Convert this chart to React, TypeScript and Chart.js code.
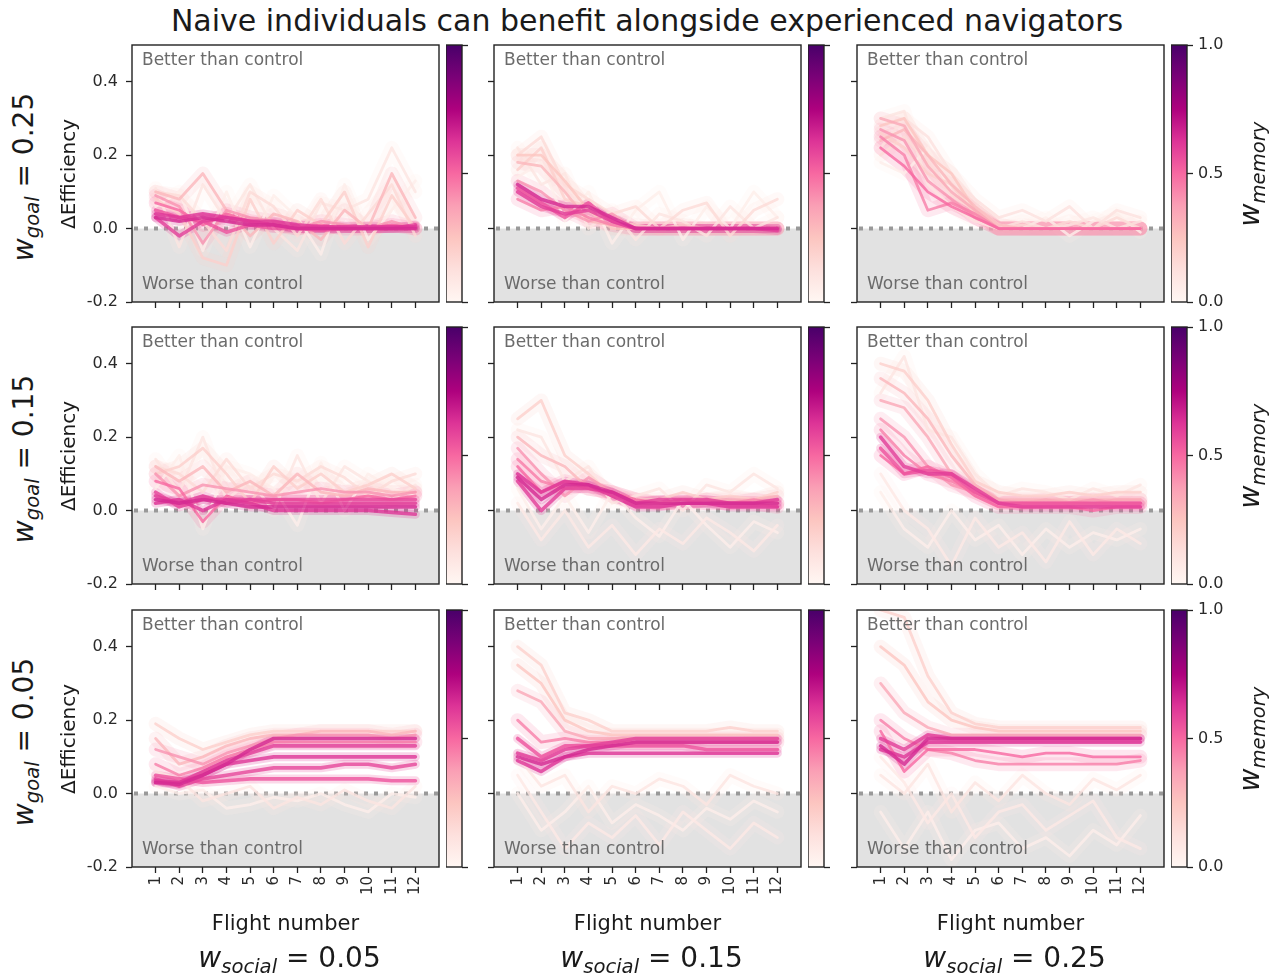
import React, { useEffect, useRef } from 'react';
import { Chart, registerables } from 'chart.js';

Chart.register(...registerables);
Chart.defaults.font.family = "'DejaVu Sans', sans-serif";

// ---------------- data ----------------
const FLIGHTS = [1, 2, 3, 4, 5, 6, 7, 8, 9, 10, 11, 12];
const Y_TICKS = [-0.2, 0.0, 0.2, 0.4];
const CBAR_TICKS = [0, 0.5, 1];
const CBAR_MAX = [1];
const W_GOAL_ROWS = ['0.25', '0.15', '0.05'];
const W_SOCIAL_COLS = ['0.05', '0.15', '0.25'];
const BASELINE = 0;
const Y_MIN = -0.2;
const Y_MAX = 0.5;
const X_MIN = 0;
const X_MAX = 13;
const TITLE = 'Naive individuals can benefit alongside experienced navigators';

// w_goal = 0.25, w_social = 0.05
const G25_S05_MEMORY = [0.05, 0.1, 0.2, 0.3, 0.4, 0.5, 0.55, 0.6, 0.62, 0.65, 0.15];
const G25_S05_VALUES = [
  [0.06, 0.1, -0.06, 0.1, -0.05, 0.09, 0.03, -0.07, 0.12, -0.03, 0.05, 0.13],
  [0.11, -0.05, 0.12, 0.02, 0.12, 0.0, -0.06, 0.07, 0.05, 0.08, 0.22, 0.1],
  [0.08, 0.04, -0.08, -0.1, 0.08, -0.04, 0.05, 0.01, 0.1, -0.05, 0.09, 0.0],
  [0.1, 0.08, 0.15, 0.05, -0.02, 0.04, 0.02, -0.03, 0.05, 0.0, 0.15, 0.03],
  [0.09, 0.06, -0.04, 0.05, 0.03, 0.02, 0.0, 0.02, 0.01, 0.0, 0.02, 0.0],
  [0.07, 0.05, 0.01, 0.04, 0.02, 0.01, 0.0, 0.01, 0.0, 0.0, 0.01, 0.0],
  [0.05, 0.03, 0.02, -0.01, 0.01, 0.0, 0.0, -0.005, 0.0, 0.0, 0.0, 0.0],
  [0.03, -0.02, 0.02, 0.03, 0.02, 0.01, 0.0, 0.0, 0.0, 0.0, 0.0, 0.01],
  [0.04, 0.03, 0.04, 0.03, 0.02, 0.02, 0.01, 0.005, 0.005, 0.005, 0.005, 0.005],
  [0.03, 0.02, 0.03, 0.02, 0.01, 0.01, 0.0, 0.0, 0.0, 0.0, 0.0, 0.0],
  [0.1, 0.09, 0.02, -0.06, 0.1, 0.06, -0.02, 0.08, -0.04, 0.04, 0.12, -0.02],
];

// w_goal = 0.25, w_social = 0.15
const G25_S15_MEMORY = [0.05, 0.1, 0.2, 0.25, 0.3, 0.4, 0.45, 0.55, 0.6, 0.65, 0.15];
const G25_S15_VALUES = [
  [0.14, 0.18, 0.02, 0.1, -0.04, 0.05, 0.1, -0.03, 0.06, 0.0, 0.1, 0.03],
  [0.22, 0.12, 0.15, 0.0, 0.05, -0.03, 0.04, 0.02, -0.02, 0.06, 0.0, 0.03],
  [0.16, 0.22, 0.08, 0.06, 0.02, 0.01, 0.0, 0.01, 0.0, 0.0, 0.0, 0.0],
  [0.2, 0.2, 0.13, 0.05, 0.0, 0.0, 0.0, 0.0, 0.0, 0.0, 0.0, 0.0],
  [0.18, 0.17, 0.1, 0.02, 0.01, 0.0, 0.0, 0.0, 0.0, 0.0, 0.0, 0.0],
  [0.13, 0.1, 0.05, 0.02, 0.04, 0.0, 0.0, 0.0, 0.0, 0.0, 0.0, 0.0],
  [0.08, 0.05, 0.06, 0.03, 0.01, 0.0, 0.0, 0.0, 0.0, 0.0, 0.0, 0.0],
  [0.11, 0.07, 0.03, 0.07, 0.02, 0.0, 0.0, 0.0, 0.0, 0.0, 0.0, 0.0],
  [0.1, 0.06, 0.04, 0.05, 0.02, 0.0, 0.0, 0.0, 0.0, 0.0, 0.0, -0.005],
  [0.12, 0.08, 0.06, 0.06, 0.03, 0.0, 0.0, 0.0, 0.0, 0.0, 0.0, 0.0],
  [0.2, 0.25, 0.12, 0.08, 0.04, 0.06, 0.0, 0.05, 0.07, -0.02, 0.05, 0.08],
];

// w_goal = 0.25, w_social = 0.25
const G25_S25_MEMORY = [0.05, 0.1, 0.15, 0.2, 0.25, 0.3, 0.35, 0.4, 0.45, 0.5, 0.12];
const G25_S25_VALUES = [
  [0.18, 0.15, 0.22, 0.1, 0.06, 0.01, 0.0, 0.03, -0.02, 0.02, 0.04, -0.01],
  [0.3, 0.32, 0.12, 0.06, 0.02, 0.0, 0.02, 0.0, 0.01, 0.03, 0.0, 0.02],
  [0.2, 0.25, 0.18, 0.09, 0.05, 0.0, 0.01, 0.0, 0.02, 0.0, 0.03, 0.0],
  [0.26, 0.22, 0.15, 0.12, 0.04, 0.0, 0.0, 0.0, 0.0, 0.0, 0.0, 0.0],
  [0.28, 0.3, 0.2, 0.15, 0.05, 0.0, 0.0, 0.0, 0.0, 0.0, 0.0, 0.0],
  [0.24, 0.27, 0.2, 0.12, 0.06, 0.01, 0.0, 0.0, 0.0, 0.0, 0.0, 0.0],
  [0.3, 0.28, 0.17, 0.1, 0.05, 0.0, 0.0, 0.0, 0.0, 0.0, 0.0, 0.0],
  [0.27, 0.24, 0.13, 0.08, 0.03, 0.0, 0.0, 0.0, 0.0, 0.0, 0.0, 0.0],
  [0.25, 0.2, 0.05, 0.07, 0.04, 0.0, 0.0, 0.0, 0.0, 0.0, 0.0, 0.0],
  [0.22, 0.17, 0.1, 0.06, 0.03, 0.0, 0.0, 0.0, 0.0, 0.0, 0.0, 0.0],
  [0.22, 0.3, 0.25, 0.15, 0.08, 0.03, 0.05, 0.02, 0.06, 0.0, 0.05, 0.03],
];

// w_goal = 0.15, w_social = 0.05
const G15_S05_MEMORY = [0.05, 0.1, 0.2, 0.3, 0.4, 0.5, 0.58, 0.6, 0.62, 0.65, 0.15];
const G15_S05_VALUES = [
  [0.06, 0.15, -0.05, 0.12, 0.1, 0.06, -0.04, 0.13, 0.0, 0.1, 0.06, 0.04],
  [0.14, 0.05, 0.2, 0.03, 0.08, 0.0, 0.15, 0.02, 0.12, 0.08, 0.03, 0.07],
  [0.1, 0.12, 0.17, 0.1, 0.02, 0.12, 0.06, 0.1, 0.05, 0.07, 0.1, 0.06],
  [0.12, 0.08, 0.12, 0.05, 0.08, 0.04, 0.1, 0.05, 0.04, 0.06, 0.05, 0.05],
  [0.1, 0.04, 0.07, 0.06, 0.05, 0.04, 0.05, 0.06, 0.05, 0.05, 0.04, 0.05],
  [0.08, 0.06, -0.03, 0.04, 0.02, 0.03, 0.03, 0.02, 0.03, 0.04, 0.03, 0.04],
  [0.05, 0.01, 0.03, 0.03, 0.03, 0.03, 0.03, 0.03, 0.03, 0.03, 0.03, 0.03],
  [0.04, 0.02, 0.04, 0.02, 0.03, 0.02, 0.02, 0.02, 0.02, 0.02, 0.02, 0.02],
  [0.02, 0.03, 0.0, 0.03, 0.02, 0.0, 0.0, 0.0, 0.0, 0.0, -0.005, -0.01],
  [0.03, 0.02, 0.03, 0.02, 0.01, 0.01, 0.01, 0.01, 0.01, 0.01, 0.01, 0.01],
  [0.12, 0.1, 0.05, 0.14, 0.06, 0.1, 0.08, 0.12, 0.09, 0.04, 0.08, 0.1],
];

// w_goal = 0.15, w_social = 0.15
const G15_S15_MEMORY = [0.05, 0.1, 0.2, 0.3, 0.4, 0.45, 0.5, 0.6, 0.62, 0.65, 0.08];
const G15_S15_VALUES = [
  [0.06, -0.05, 0.04, -0.06, 0.05, -0.02, -0.07, 0.03, -0.04, -0.1, -0.03, -0.06],
  [0.22, 0.2, 0.08, 0.12, 0.02, 0.04, 0.06, 0.0, 0.07, 0.05, 0.1, 0.06],
  [0.25, 0.3, 0.15, 0.1, 0.04, 0.03, 0.03, 0.05, 0.03, 0.04, 0.03, 0.05],
  [0.2, 0.15, 0.12, 0.06, 0.05, 0.03, 0.02, 0.02, 0.03, 0.03, 0.03, 0.04],
  [0.17, 0.1, 0.04, 0.09, 0.05, 0.02, 0.02, 0.02, 0.02, 0.02, 0.02, 0.02],
  [0.14, 0.08, 0.06, 0.07, 0.04, 0.02, 0.02, 0.02, 0.03, 0.02, 0.03, 0.02],
  [0.12, 0.05, 0.08, 0.06, 0.05, 0.03, 0.02, 0.03, 0.02, 0.02, 0.02, 0.01],
  [0.08, 0.0, 0.06, 0.06, 0.05, 0.02, 0.03, 0.03, 0.03, 0.02, 0.02, 0.03],
  [0.1, 0.05, 0.08, 0.07, 0.04, 0.01, 0.01, 0.02, 0.02, 0.01, 0.01, 0.01],
  [0.09, 0.03, 0.07, 0.07, 0.05, 0.02, 0.02, 0.02, 0.02, 0.02, 0.02, 0.02],
  [0.02, -0.08, 0.0, -0.1, -0.04, -0.12, -0.05, -0.09, -0.02, -0.06, -0.11, -0.04],
];

// w_goal = 0.15, w_social = 0.25
const G15_S25_MEMORY = [0.05, 0.1, 0.2, 0.3, 0.35, 0.4, 0.45, 0.5, 0.55, 0.6, 0.08];
const G15_S25_VALUES = [
  [0.05, -0.05, -0.1, 0.0, -0.08, -0.04, -0.12, -0.05, -0.1, -0.06, -0.08, -0.05],
  [0.32, 0.42, 0.22, 0.2, 0.1, 0.04, 0.06, 0.05, 0.03, 0.06, 0.04, 0.07],
  [0.4, 0.38, 0.3, 0.18, 0.08, 0.05, 0.04, 0.04, 0.05, 0.04, 0.05, 0.05],
  [0.36, 0.32, 0.25, 0.15, 0.07, 0.03, 0.03, 0.03, 0.03, 0.03, 0.03, 0.03],
  [0.3, 0.28, 0.2, 0.1, 0.06, 0.03, 0.02, 0.03, 0.02, 0.02, 0.03, 0.03],
  [0.25, 0.2, 0.12, 0.07, 0.05, 0.02, 0.02, 0.02, 0.02, 0.03, 0.02, 0.02],
  [0.22, 0.15, 0.1, 0.08, 0.05, 0.02, 0.02, 0.02, 0.02, 0.02, 0.02, 0.02],
  [0.15, 0.1, 0.12, 0.09, 0.04, 0.01, 0.01, 0.01, 0.01, 0.0, 0.01, 0.01],
  [0.17, 0.1, 0.11, 0.1, 0.05, 0.02, 0.02, 0.02, 0.02, 0.02, 0.02, 0.02],
  [0.2, 0.12, 0.1, 0.1, 0.06, 0.02, 0.01, 0.01, 0.01, 0.01, 0.01, 0.01],
  [0.1, 0.0, -0.05, -0.15, -0.02, -0.1, -0.06, -0.14, -0.03, -0.12, -0.05, -0.09],
];

// w_goal = 0.05, w_social = 0.05
const G05_S05_MEMORY = [0.05, 0.2, 0.3, 0.4, 0.45, 0.55, 0.58, 0.6, 0.62, 0.65, 0.1];
const G05_S05_VALUES = [
  [0.02, 0.0, 0.01, -0.04, -0.03, -0.01, -0.02, 0.0, -0.03, -0.05, 0.0, -0.01],
  [0.19, 0.15, 0.12, 0.14, 0.16, 0.17, 0.17, 0.17, 0.17, 0.17, 0.17, 0.17],
  [0.15, 0.08, 0.1, 0.13, 0.15, 0.16, 0.16, 0.17, 0.17, 0.17, 0.16, 0.17],
  [0.12, 0.1, 0.08, 0.11, 0.13, 0.15, 0.16, 0.16, 0.16, 0.16, 0.15, 0.16],
  [0.08, 0.05, 0.07, 0.1, 0.12, 0.14, 0.14, 0.14, 0.14, 0.14, 0.14, 0.14],
  [0.05, 0.04, 0.03, 0.035, 0.04, 0.04, 0.04, 0.04, 0.04, 0.04, 0.035, 0.035],
  [0.04, 0.02, 0.04, 0.05, 0.06, 0.07, 0.07, 0.07, 0.08, 0.08, 0.07, 0.08],
  [0.03, 0.03, 0.06, 0.09, 0.11, 0.13, 0.13, 0.13, 0.13, 0.13, 0.13, 0.13],
  [0.035, 0.03, 0.05, 0.08, 0.09, 0.1, 0.1, 0.1, 0.1, 0.1, 0.1, 0.1],
  [0.03, 0.025, 0.05, 0.08, 0.12, 0.15, 0.15, 0.15, 0.15, 0.15, 0.15, 0.15],
  [0.06, 0.04, -0.02, 0.0, 0.02, -0.04, -0.01, -0.03, 0.01, -0.02, -0.04, 0.02],
];

// w_goal = 0.05, w_social = 0.15
const G05_S15_MEMORY = [0.05, 0.1, 0.2, 0.25, 0.35, 0.45, 0.55, 0.6, 0.62, 0.65, 0.08];
const G05_S15_VALUES = [
  [0.0, -0.1, -0.05, 0.02, -0.08, -0.03, -0.06, -0.1, -0.04, -0.07, -0.02, -0.05],
  [0.1, 0.02, 0.05, -0.05, 0.02, 0.0, 0.04, 0.02, -0.03, 0.05, 0.02, 0.0],
  [0.4, 0.35, 0.22, 0.2, 0.17, 0.17, 0.17, 0.17, 0.17, 0.18, 0.17, 0.17],
  [0.35, 0.3, 0.2, 0.17, 0.16, 0.16, 0.16, 0.16, 0.16, 0.16, 0.16, 0.16],
  [0.28, 0.25, 0.17, 0.15, 0.15, 0.15, 0.15, 0.15, 0.15, 0.15, 0.15, 0.15],
  [0.2, 0.14, 0.15, 0.14, 0.14, 0.14, 0.14, 0.14, 0.14, 0.14, 0.14, 0.14],
  [0.15, 0.1, 0.13, 0.13, 0.13, 0.13, 0.13, 0.13, 0.12, 0.12, 0.12, 0.12],
  [0.11, 0.09, 0.12, 0.13, 0.14, 0.15, 0.15, 0.15, 0.15, 0.15, 0.15, 0.15],
  [0.09, 0.06, 0.1, 0.11, 0.11, 0.11, 0.11, 0.11, 0.11, 0.11, 0.11, 0.11],
  [0.1, 0.08, 0.1, 0.12, 0.13, 0.14, 0.14, 0.14, 0.14, 0.14, 0.14, 0.14],
  [0.05, -0.05, -0.15, -0.08, -0.12, -0.06, -0.14, -0.05, -0.1, -0.15, -0.08, -0.12],
];

// w_goal = 0.05, w_social = 0.25
const G05_S25_MEMORY = [0.05, 0.1, 0.2, 0.25, 0.35, 0.45, 0.5, 0.6, 0.62, 0.65, 0.08];
const G05_S25_VALUES = [
  [-0.05, -0.15, -0.05, -0.18, -0.1, -0.08, -0.15, -0.12, -0.17, -0.1, -0.14, -0.06],
  [0.05, 0.0, 0.08, -0.05, 0.03, -0.02, 0.05, 0.0, -0.03, 0.04, 0.01, 0.05],
  [0.5, 0.48, 0.32, 0.22, 0.19, 0.18, 0.18, 0.18, 0.18, 0.18, 0.18, 0.18],
  [0.4, 0.35, 0.25, 0.2, 0.18, 0.17, 0.17, 0.17, 0.17, 0.17, 0.17, 0.17],
  [0.3, 0.22, 0.18, 0.16, 0.16, 0.16, 0.16, 0.16, 0.16, 0.16, 0.16, 0.16],
  [0.2, 0.15, 0.12, 0.11, 0.09, 0.08, 0.08, 0.08, 0.08, 0.08, 0.08, 0.09],
  [0.17, 0.06, 0.12, 0.12, 0.12, 0.11, 0.1, 0.11, 0.11, 0.1, 0.1, 0.1],
  [0.15, 0.12, 0.16, 0.15, 0.15, 0.15, 0.15, 0.15, 0.15, 0.15, 0.15, 0.15],
  [0.12, 0.1, 0.14, 0.14, 0.14, 0.14, 0.14, 0.14, 0.14, 0.14, 0.14, 0.14],
  [0.13, 0.08, 0.15, 0.15, 0.15, 0.15, 0.15, 0.15, 0.15, 0.15, 0.15, 0.15],
  [0.1, 0.03, -0.08, 0.0, -0.12, -0.05, -0.03, -0.1, -0.06, -0.02, -0.12, -0.15],
];

const PANELS = [
  [
    { memory: G25_S05_MEMORY, values: G25_S05_VALUES },
    { memory: G25_S15_MEMORY, values: G25_S15_VALUES },
    { memory: G25_S25_MEMORY, values: G25_S25_VALUES },
  ],
  [
    { memory: G15_S05_MEMORY, values: G15_S05_VALUES },
    { memory: G15_S15_MEMORY, values: G15_S15_VALUES },
    { memory: G15_S25_MEMORY, values: G15_S25_VALUES },
  ],
  [
    { memory: G05_S05_MEMORY, values: G05_S05_VALUES },
    { memory: G05_S15_MEMORY, values: G05_S15_VALUES },
    { memory: G05_S25_MEMORY, values: G05_S25_VALUES },
  ],
];

// ---------------- styling / layout ----------------
const RDPU = ['#fff7f3', '#fde0dd', '#fcc5c0', '#fa9fb5', '#f768a1', '#dd3497', '#ae017e', '#7a0177', '#49006a'];

const COL_LEFT = [132, 494, 857];
const ROW_TOP = [45, 327, 610];
const PLOT_W = 307;
const PLOT_H = 257;
const CBAR_LEFT = [446, 808, 1171];
const CBAR_W = 16;
const PAD_T = 24;
const Y_AXIS_W = 64;
const X_AXIS_H = 50;
const CB_PAD = 18;
const CB_AXIS_W = 50;
const TEXT = '#2a2a2a';

function hexToRgb(h: string) {
  return [parseInt(h.slice(1, 3), 16), parseInt(h.slice(3, 5), 16), parseInt(h.slice(5, 7), 16)];
}
function rdpu(t: number, alpha: number) {
  const n = RDPU.length - 1;
  const p = Math.max(0, Math.min(1, t)) * n;
  const i = Math.min(Math.floor(p), n - 1);
  const f = p - i;
  const a = hexToRgb(RDPU[i]);
  const b = hexToRgb(RDPU[i + 1]);
  const c = a.map((v, k) => Math.round(v + (b[k] - v) * f));
  return `rgba(${c[0]},${c[1]},${c[2]},${alpha})`;
}

const panelPlugin = {
  id: 'panelDecor',
  beforeDatasetsDraw(chart: any) {
    const { ctx, chartArea: ca, scales } = chart;
    const y0 = scales.y.getPixelForValue(BASELINE);
    ctx.save();
    ctx.fillStyle = '#e2e2e2';
    ctx.fillRect(ca.left, y0, ca.right - ca.left, ca.bottom - y0);
    ctx.strokeStyle = '#999999';
    ctx.lineWidth = 4;
    ctx.setLineDash([4, 6]);
    ctx.beginPath();
    ctx.moveTo(scales.x.getPixelForValue(X_MIN) + 2, y0);
    ctx.lineTo(scales.x.getPixelForValue(X_MAX), y0);
    ctx.stroke();
    ctx.restore();
  },
  afterDatasetsDraw(chart: any) {
    const { ctx, chartArea: ca } = chart;
    ctx.save();
    ctx.fillStyle = '#6b6b6b';
    ctx.font = "17px 'DejaVu Sans'";
    ctx.textBaseline = 'middle';
    ctx.textAlign = 'left';
    ctx.fillText('Better than control', ca.left + 10, ca.top + 16);
    ctx.fillText('Worse than control', ca.left + 10, ca.bottom - 17);
    ctx.strokeStyle = '#222';
    ctx.lineWidth = 1.4;
    ctx.strokeRect(ca.left, ca.top, ca.right - ca.left, ca.bottom - ca.top);
    ctx.restore();
  },
};

const cbarPlugin = {
  id: 'cbarBox',
  afterDatasetsDraw(chart: any) {
    const { ctx, chartArea: ca } = chart;
    ctx.save();
    ctx.strokeStyle = '#222';
    ctx.lineWidth = 1.4;
    ctx.strokeRect(ca.left, ca.top, ca.right - ca.left, ca.bottom - ca.top);
    ctx.restore();
  },
};

function Panel({ row, col }: { row: number; col: number }) {
  const ref = useRef<HTMLCanvasElement>(null);
  const width = Y_AXIS_W + PLOT_W + 2;
  const height = PAD_T + PLOT_H + X_AXIS_H;
  useEffect(() => {
    const { memory, values } = PANELS[row][col];
    const idx = memory.map((_, i) => i).sort((a, b) => memory[a] - memory[b]);
    const layers: any[] = [];
    idx.forEach((i) => {
      layers.push({
        data: FLIGHTS.map((x, k) => ({ x, y: values[i][k] })),
        borderColor: rdpu(memory[i], memory[i] > 0.5 ? 0.22 : 0.17),
        borderWidth: memory[i] > 0.5 ? 9 : 14,
      });
    });
    idx.forEach((i) => {
      layers.push({
        data: FLIGHTS.map((x, k) => ({ x, y: values[i][k] })),
        borderColor: rdpu(memory[i], 0.8),
        borderWidth: memory[i] > 0.5 ? 3.6 : 2.8,
      });
    });
    const total = layers.length;
    const datasets = layers.map((d, k) => ({
      ...d,
      order: total - k,
      pointRadius: 0,
      tension: 0,
      fill: false,
      borderJoinStyle: 'round',
      borderCapStyle: 'round',
    }));
    const chart = new Chart(ref.current as HTMLCanvasElement, {
      type: 'line',
      data: { datasets },
      options: {
        animation: false,
        responsive: false,
        maintainAspectRatio: false,
        layout: { padding: { top: PAD_T, right: 2, left: 0, bottom: 0 } },
        plugins: { legend: { display: false }, tooltip: { enabled: false } },
        scales: {
          x: {
            type: 'linear',
            min: X_MIN,
            max: X_MAX,
            afterBuildTicks: (s: any) => {
              s.ticks = FLIGHTS.map((v) => ({ value: v }));
            },
            afterFit: (s: any) => {
              s.height = X_AXIS_H;
            },
            ticks: {
              autoSkip: false,
              minRotation: 90,
              maxRotation: 90,
              padding: 3,
              color: TEXT,
              font: { size: 15, family: "'DejaVu Sans'" },
              callback: (v: any) => (row === 2 ? String(v) : ''),
            },
            grid: { drawOnChartArea: false, drawTicks: true, tickLength: 6, color: '#222', tickWidth: 1.3 },
            border: { display: false },
          },
          y: {
            min: Y_MIN,
            max: Y_MAX,
            afterBuildTicks: (s: any) => {
              s.ticks = Y_TICKS.map((v) => ({ value: v }));
            },
            afterFit: (s: any) => {
              s.width = Y_AXIS_W;
            },
            ticks: {
              padding: 8,
              color: TEXT,
              font: { size: 16, family: "'DejaVu Sans'" },
              callback: (v: any) => (col === 0 ? Number(v).toFixed(1) : ''),
            },
            grid: { drawOnChartArea: false, drawTicks: true, tickLength: 6, color: '#222', tickWidth: 1.3 },
            border: { display: false },
          },
        },
      } as any,
      plugins: [panelPlugin],
    });
    return () => chart.destroy();
  }, [row, col]);
  return (
    <canvas
      ref={ref}
      width={width}
      height={height}
      style={{
        position: 'absolute',
        left: COL_LEFT[col] - Y_AXIS_W,
        top: ROW_TOP[row] - PAD_T,
        width,
        height,
      }}
    />
  );
}

function ColorBar({ row, col }: { row: number; col: number }) {
  const ref = useRef<HTMLCanvasElement>(null);
  const width = CBAR_W + CB_AXIS_W;
  const height = PLOT_H + 2 * CB_PAD;
  useEffect(() => {
    const chart = new Chart(ref.current as HTMLCanvasElement, {
      type: 'bar',
      data: {
        labels: ['w_memory'],
        datasets: [
          {
            data: CBAR_MAX,
            barPercentage: 1,
            categoryPercentage: 1,
            borderWidth: 0,
            backgroundColor: (c: any) => {
              const ca = c.chart.chartArea;
              if (!ca) return RDPU[4];
              const g = c.chart.ctx.createLinearGradient(0, ca.bottom, 0, ca.top);
              RDPU.forEach((h, i) => g.addColorStop(i / (RDPU.length - 1), h));
              return g;
            },
          },
        ],
      },
      options: {
        animation: false,
        responsive: false,
        maintainAspectRatio: false,
        layout: { padding: { top: CB_PAD, bottom: CB_PAD, left: 0, right: 0 } },
        plugins: { legend: { display: false }, tooltip: { enabled: false } },
        scales: {
          x: { display: false },
          y: {
            position: 'right',
            min: 0,
            max: 1,
            afterBuildTicks: (s: any) => {
              s.ticks = CBAR_TICKS.map((v) => ({ value: v }));
            },
            afterFit: (s: any) => {
              s.width = CB_AXIS_W;
            },
            ticks: {
              padding: 5,
              color: TEXT,
              font: { size: 16, family: "'DejaVu Sans'" },
              callback: (v: any) => (col === 2 ? Number(v).toFixed(1) : ''),
            },
            grid: { drawOnChartArea: false, drawTicks: true, tickLength: 6, color: '#222', tickWidth: 1.3 },
            border: { display: false },
          },
        },
      } as any,
      plugins: [cbarPlugin],
    });
    return () => chart.destroy();
  }, [row, col]);
  return (
    <canvas
      ref={ref}
      width={width}
      height={height}
      style={{ position: 'absolute', left: CBAR_LEFT[col], top: ROW_TOP[row] - CB_PAD, width, height }}
    />
  );
}

function Label({ x, y, size, rotate, children, color }: any) {
  return (
    <div
      style={{
        position: 'absolute',
        left: x,
        top: y,
        transform: `translate(-50%, -50%)${rotate ? ' rotate(-90deg)' : ''}`,
        fontSize: size,
        lineHeight: 1,
        whiteSpace: 'nowrap',
        color: color || '#1a1a1a',
      }}
    >
      {children}
    </div>
  );
}

function MathW({ sub, value }: { sub: string; value: string }) {
  return (
    <span>
      <span style={{ fontStyle: 'italic' }}>w</span>
      <span style={{ fontStyle: 'italic', fontSize: '0.7em', position: 'relative', top: '0.3em' }}>{sub}</span>
      {value !== '' ? <span>{' = ' + value}</span> : null}
    </span>
  );
}

export default function App() {
  const rows = [0, 1, 2];
  const cols = [0, 1, 2];
  return (
    <div
      style={{
        position: 'absolute',
        left: 0,
        top: 0,
        width: 1277,
        height: 976,
        background: '#ffffff',
        overflow: 'hidden',
        fontFamily: "'DejaVu Sans', sans-serif",
      }}
    >
      <Label x={647} y={21} size={30}>
        {TITLE}
      </Label>
      {rows.map((r) =>
        cols.map((c) => <Panel key={`p${r}${c}`} row={r} col={c} />)
      )}
      {rows.map((r) =>
        cols.map((c) => <ColorBar key={`c${r}${c}`} row={r} col={c} />)
      )}
      {rows.map((r) => (
        <React.Fragment key={`rl${r}`}>
          <Label x={24} y={ROW_TOP[r] + PLOT_H / 2 + 3} size={28} rotate>
            <MathW sub="goal" value={W_GOAL_ROWS[r]} />
          </Label>
          <Label x={68} y={ROW_TOP[r] + PLOT_H / 2} size={20} rotate>
            ΔEfficiency
          </Label>
          <Label x={1250} y={ROW_TOP[r] + PLOT_H / 2} size={28} rotate>
            <MathW sub="memory" value="" />
          </Label>
        </React.Fragment>
      ))}
      {cols.map((c) => (
        <React.Fragment key={`cl${c}`}>
          <Label x={COL_LEFT[c] + PLOT_W / 2} y={923} size={21}>
            Flight number
          </Label>
          <Label x={COL_LEFT[c] + PLOT_W / 2 + 4} y={958} size={28}>
            <MathW sub="social" value={W_SOCIAL_COLS[c]} />
          </Label>
        </React.Fragment>
      ))}
    </div>
  );
}
